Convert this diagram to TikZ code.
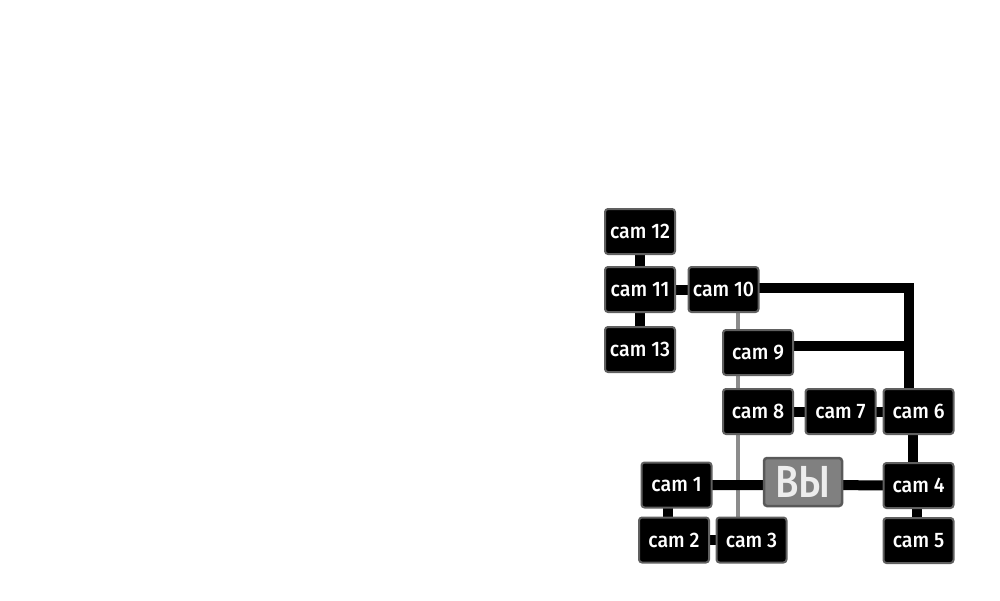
\documentclass[tikz,border=0pt]{standalone}
\usepackage{fontspec}
\setmainfont{Fira Sans Medium}[FakeStretch=0.93]
\newfontfamily\vyfont{Fira Sans Medium}[FakeStretch=0.85]
\begin{document}
\begin{tikzpicture}[x=1pt,y=-1pt,
  cambox/.style={draw=gray!75!black, line width=2pt, fill=black, rounded corners=3pt,
    minimum width=70pt, minimum height=45pt, inner sep=0pt, text=white,
    font=\fontsize{21}{23}\selectfont},
  youbox/.style={draw=gray!70!black, line width=2.5pt, fill=gray, rounded corners=3pt,
    minimum width=78pt, minimum height=48pt, inner sep=0pt, text=white!93!black,
    font=\vyfont\fontsize{45}{47}\selectfont},
  link/.style={line width=10pt, black},
  glink/.style={line width=4pt, gray!90!white}]
\useasboundingbox (0,0) rectangle (1000,600);
% node positions
\coordinate (p12) at (640,231.5);
\coordinate (p11) at (640,289.5);
\coordinate (p13) at (640,349.5);
\coordinate (p10) at (723.5,289.5);
\coordinate (p9) at (758,352.5);
\coordinate (p8) at (758,411.5);
\coordinate (p7) at (840.5,411.5);
\coordinate (p6) at (918.5,411.5);
\coordinate (p4) at (918.5,485.5);
\coordinate (p5) at (918.5,540.5);
\coordinate (pv) at (803,482);
\coordinate (p1) at (676.5,485);
\coordinate (p2) at (674,540);
\coordinate (p3) at (751.5,540);
% connectors first (behind)
\coordinate (c10) at (908.5,288);
\coordinate (c9) at (908.5,346);
\coordinate (g1) at (738,289.5);
\coordinate (g2) at (738,540);
\draw[glink] (g1) -- (g2);
\draw[link] (p12) -- (p11);
\draw[link] (p11) -- (p13);
\draw[link] (p11) -- (p10);
\draw[link] (p10 |- c10) -- (c10) -- (c10 |- p6);
\draw[link] (p9 |- c9) -- (c9);
\draw[link] (p8) -- (p7) -- (p6);
\draw[link] (913,411.5) -- (913,485.5);
\draw[link] (916.5,485.5) -- (916.5,540.5);
\draw[link] (p1) -- (pv |- p1) -- (p4);
\draw[link] (667.5,485) -- (667.5,540);
\draw[link] (p2) -- (p3);
% nodes
\node[cambox] (cam12) at (p12) {cam 12};
\node[cambox] (cam11) at (p11) {cam 11};
\node[cambox] (cam13) at (p13) {cam 13};
\node[cambox] (cam10) at (p10) {cam 10};
\node[cambox] (cam9) at (p9) {cam 9};
\node[cambox] (cam8) at (p8) {cam 8};
\node[cambox] (cam7) at (p7) {cam 7};
\node[cambox] (cam6) at (p6) {cam 6};
\node[cambox] (cam4) at (p4) {cam 4};
\node[cambox] (cam5) at (p5) {cam 5};
\node[youbox] (vy) at (pv) {ВЫ};
\node[cambox] (cam1) at (p1) {cam 1};
\node[cambox] (cam2) at (p2) {cam 2};
\node[cambox] (cam3) at (p3) {cam 3};
\end{tikzpicture}
\end{document}
